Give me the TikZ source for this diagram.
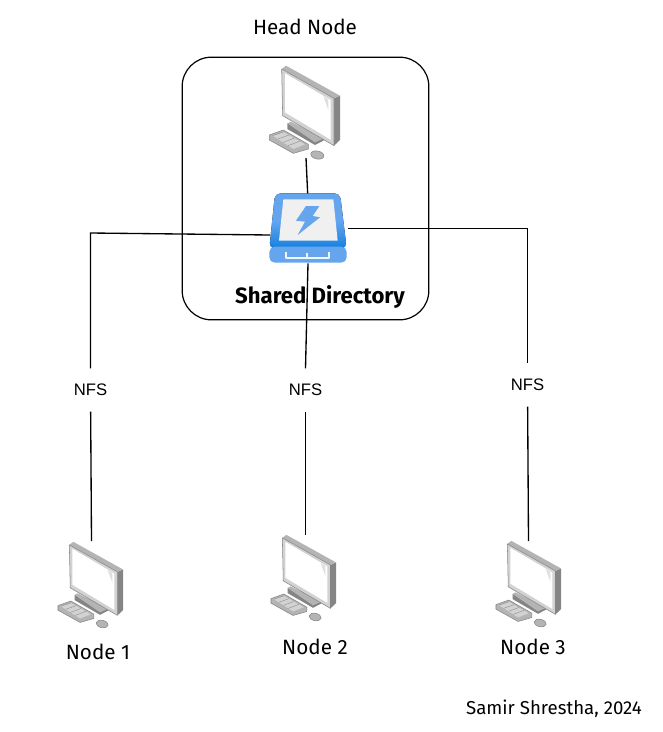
\documentclass[tikz,border=0pt]{standalone}
\usepackage{fontspec}
\setmainfont{Fira Sans}
\newfontfamily\labelfont{Liberation Sans}
\usepackage{xcolor}
\usetikzlibrary{arrows.meta,positioning,calc}
\definecolor{shell}{HTML}{B4B4B4}
\definecolor{shelldark}{HTML}{858585}
\definecolor{shelllight}{HTML}{D2D2D2}
\definecolor{diskblue}{HTML}{65A5EE}
\definecolor{diskdeep}{HTML}{1480E0}
\definecolor{diskface}{HTML}{F0F0F0}
\tikzset{
  wire/.style={draw=black,line width=1pt},
  nfslabel/.style={fill=white,font=\labelfont\fontsize{12.5}{14}\selectfont,minimum width=30pt,minimum height=32pt,inner sep=0pt},
  caption/.style={font=\fontsize{15.5}{17}\selectfont,inner sep=0pt},
  desktop/.pic={
    \begin{scope}[x=.25pt,y=-.25pt,line join=round]
      % stand, keyboard, mouse
      \fill[shelldark] (82,205)--(82,222)--(165,270)--(192,256)--(192,240)--cycle;
      \fill[shell] (82,205)--(92,200)--(192,250)--(165,262)--cycle;
      \filldraw[draw=shelldark,fill=shell] (28,240)--(70,225)--(145,268)--(145,282)--(100,295)--(28,255)--cycle;
      \fill[shelllight] (38,242)--(70,231)--(135,268)--(100,282)--cycle;
      \foreach \k in {0,1,2,3} {
        \draw[shelldark,line width=.25pt] ($(38,242)!\k*.25!(100,282)$)--($(70,231)!\k*.25!(135,268)$);
      }
      \filldraw[draw=shelldark,fill=shell,rotate around={-12:(172,300)}] (172,300) ellipse (20 and 12);
      % monitor
      \fill[shelldark] (222,130)--(240,122)--(240,255)--(222,272)--cycle;
      \fill[shell] (65,42)--(78,32)--(240,122)--(222,130)--cycle;
      \filldraw[draw=shelldark,fill=shelllight] (65,42)--(222,130)--(222,272)--(68,182)--cycle;
      \fill[white] (75,55)--(212,135)--(212,254)--(75,172)--cycle;
      \fill[shelllight!70] (190,124)--(205,133)--(205,165)--cycle;
    \end{scope}
  },
  flashdisk/.pic={
    \begin{scope}[x=.25pt,y=-.25pt]
      \fill[rounded corners=4pt,top color=diskblue,bottom color=diskdeep,middle color=diskblue] (150,40)--(345,40)--(365,205)--(133,205)--cycle;
      \fill[diskblue,rounded corners=4pt] (133,200)--(365,200)--(365,248)--(133,248)--cycle;
      \fill[diskface] (175,58)--(325,58)--(338,182)--(162,182)--cycle;
      \fill[diskblue] (243,78)--(283,78)--(263,108)--(285,112)--(218,165)--(240,125)--(213,122)--cycle;
      \draw[white!90!diskblue,line width=1.4pt,line join=round] (183,215)--(183,234)--(312,234)--(312,215) (247,220)--(247,234);
      \coordinate (-up) at (248,40);
      \coordinate (-west) at (135,165);
      \coordinate (-east) at (368,145.5);
      \coordinate (-down) at (249,250);
    \end{scope}
  }
}
\begin{document}
\begin{tikzpicture}[x=.75pt,y=-.75pt]
  \useasboundingbox (0,0) rectangle (662,732);
  \node[draw=black,line width=0.9pt,rounded corners=22pt,minimum width=185pt,minimum height=197pt,inner sep=0pt] (headbox) at (305.5,188.5) {};
  \coordinate (headbase) at (306,158);
  \coordinate (tapa) at (90.5,233);
  \coordinate (tapc) at (527.5,228.5);

  \pic (disk) at (225,180) {flashdisk};
  \pic (headpc) at (260,55) {desktop};
  \pic[scale=.92] (pca) at (49.4,532) {desktop};
  \pic[scale=.92] (pcb) at (262.4,525) {desktop};
  \pic[scale=.92] (pcc) at (487.4,531) {desktop};

  \node[nfslabel] (nfsa) at (90.5,390) {NFS};
  \node[nfslabel] (nfsb) at (305.5,390) {NFS};
  \node[nfslabel] (nfsc) at (527.5,385) {NFS};
  \coordinate (pcatop) at (91.5,541);
  \coordinate (pcbtop) at (305.5,535);
  \coordinate (pcctop) at (528.5,541);

  \draw[wire] (headbase)--(disk-up);
  \draw[wire] (disk-west)--(tapa)--(nfsa);
  \draw[wire] (disk-east)--(tapc)--(nfsc);
  \draw[wire] (disk-down)--(nfsb.north);
  \draw[wire] (nfsa)--(pcatop);
  \draw[wire] (nfsb)--(pcbtop);
  \draw[wire] (nfsc)--(pcctop);

  \node[caption] (headname) at (305,27) {Head Node};
  \node[caption,font=\fontsize{16.6}{18}\selectfont\bfseries] (sharename) at (320,297) {Shared Directory};
  \node[caption] (namea) at (98,652) {Node 1};
  \node[caption] (nameb) at (315,647) {Node 2};
  \node[caption] (namec) at (533,647) {Node 3};
  \node[caption,font=\fontsize{14}{16}\selectfont] (credit) at (554,709) {Samir Shrestha, 2024};
\end{tikzpicture}
\end{document}
